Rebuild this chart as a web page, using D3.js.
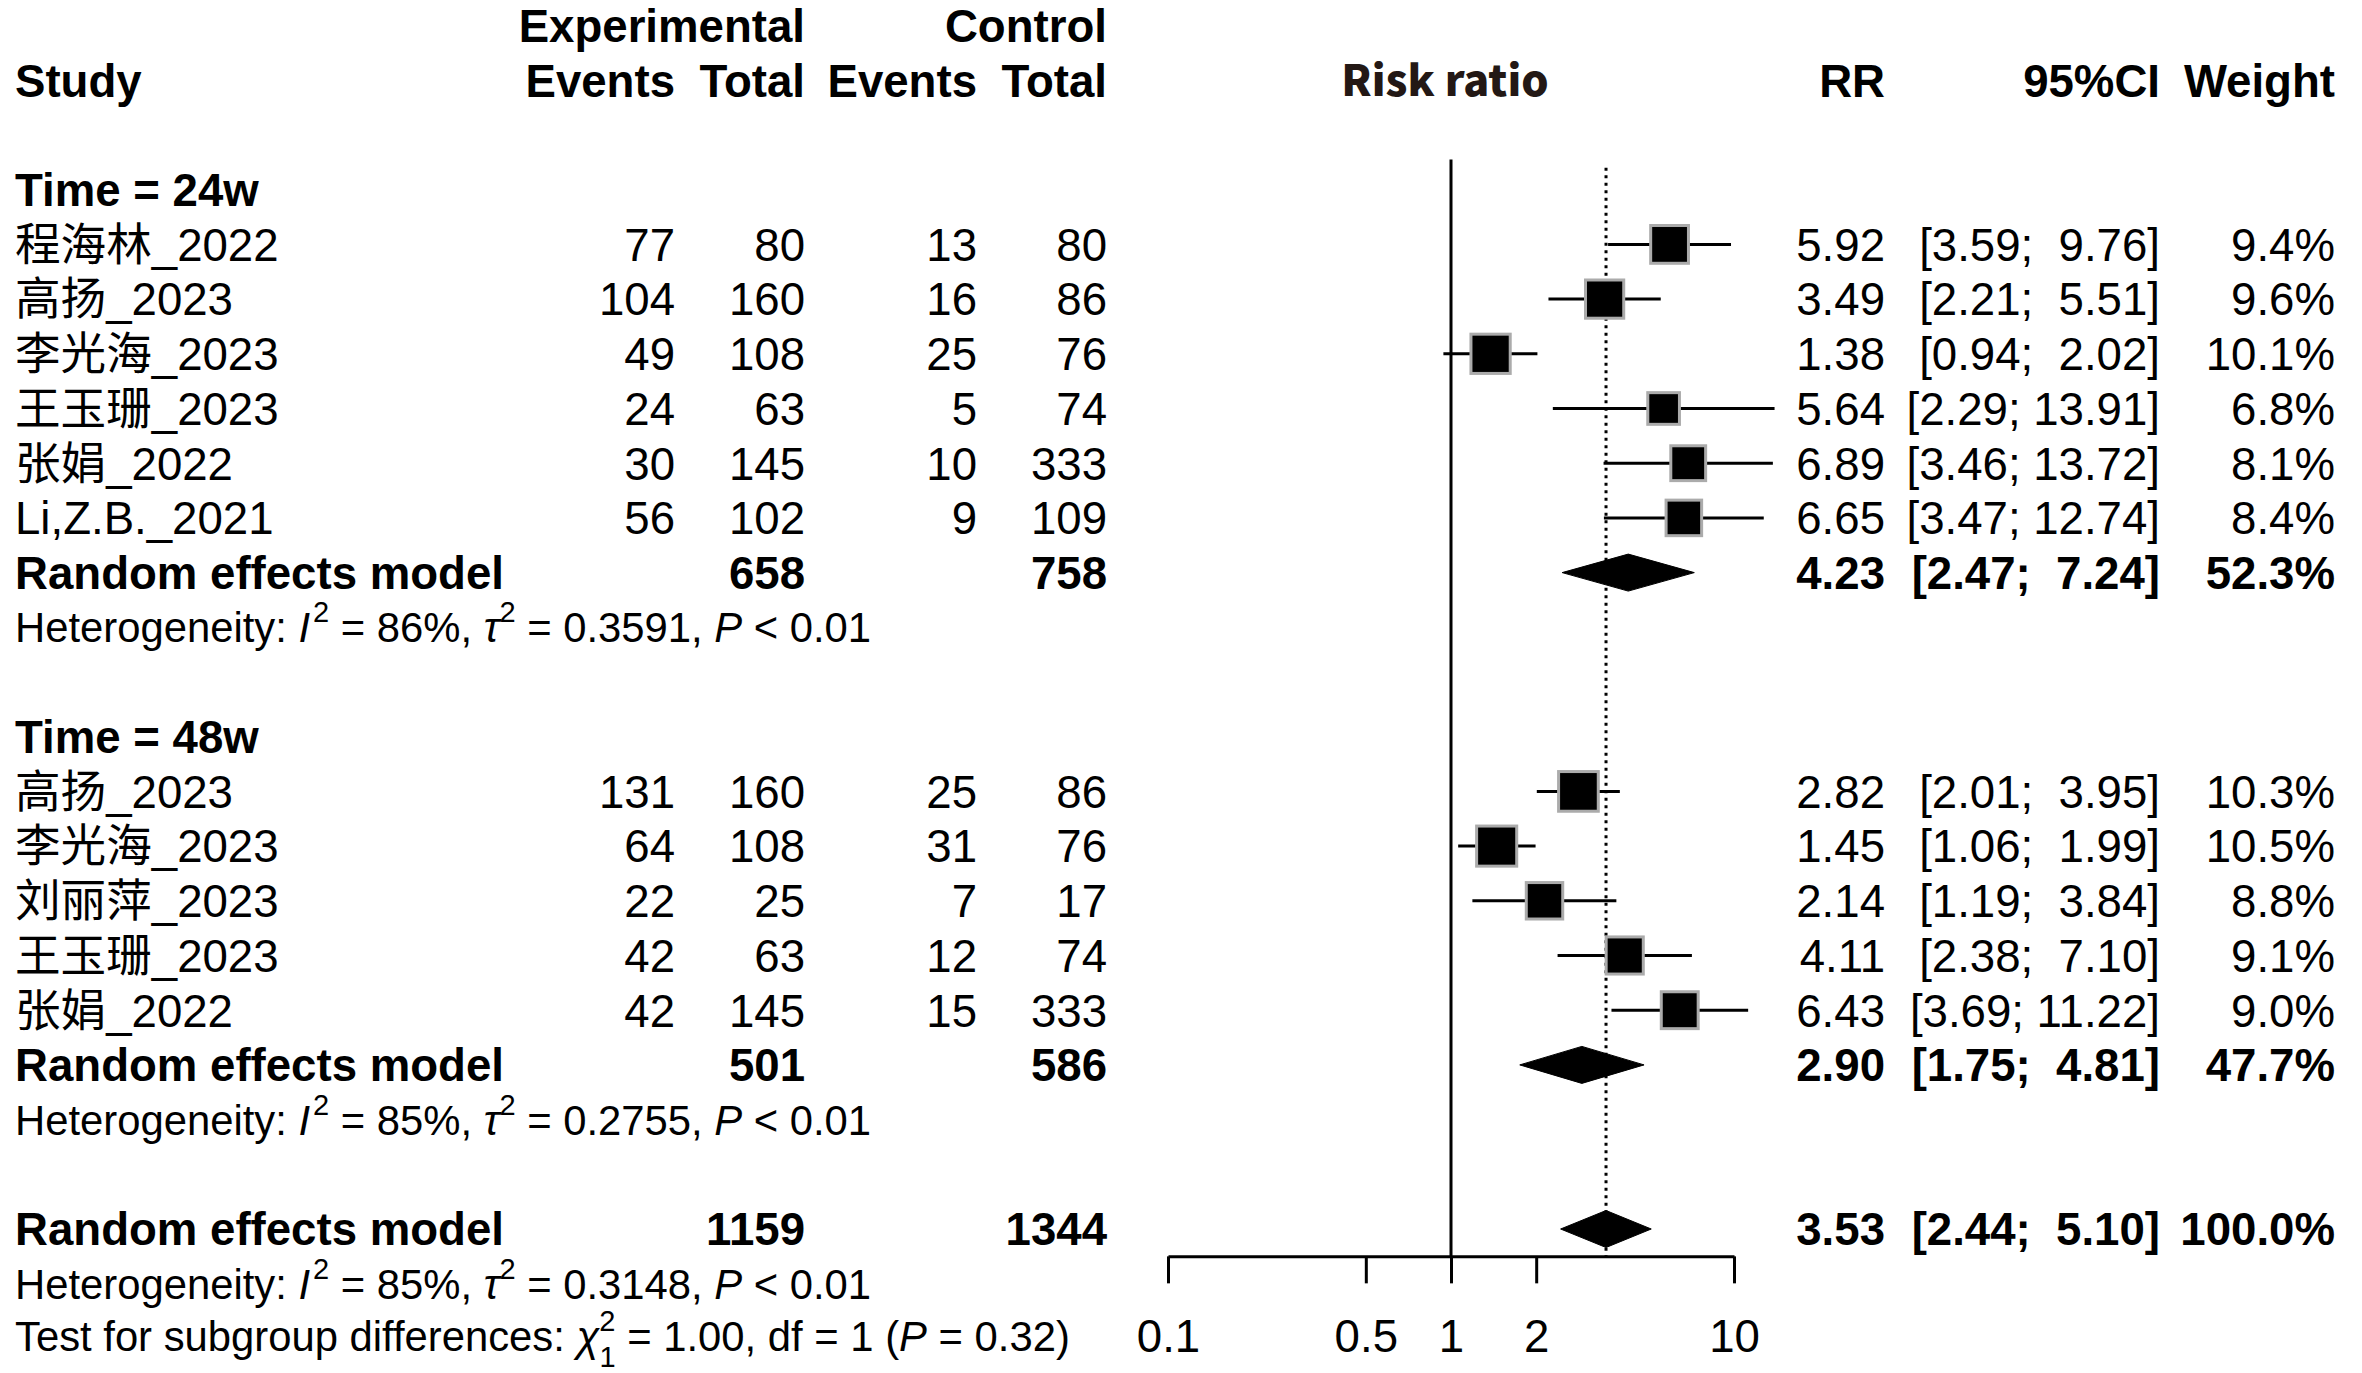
<!DOCTYPE html>
<html>
<head>
<meta charset="utf-8">
<script src="https://cdn.jsdelivr.net/npm/d3@7"></script>
<style>
  html, body { margin: 0; padding: 0; background: #fff; }
  svg text { white-space: pre; }
</style>
</head>
<body>
<script>
// ---------------- DATA ----------------
const groupLabels = ["Time = 24w", "Time = 48w"];
const studyNames = ["程海林_2022", "高扬_2023", "李光海_2023", "王玉珊_2023", "张娟_2022", "Li,Z.B._2021",
                    "高扬_2023", "李光海_2023", "刘丽萍_2023", "王玉珊_2023", "张娟_2022"];
const studyGroup = [0, 0, 0, 0, 0, 0, 1, 1, 1, 1, 1];
const expEvents  = [77, 104, 49, 24, 30, 56, 131, 64, 22, 42, 42];
const expTotal   = [80, 160, 108, 63, 145, 102, 160, 108, 25, 63, 145];
const ctrlEvents = [13, 16, 25, 5, 10, 9, 25, 31, 7, 12, 15];
const ctrlTotal  = [80, 86, 76, 74, 333, 109, 86, 76, 17, 74, 333];
const rrValues   = [5.92, 3.49, 1.38, 5.64, 6.89, 6.65, 2.82, 1.45, 2.14, 4.11, 6.43];
const ciLower    = [3.59, 2.21, 0.94, 2.29, 3.46, 3.47, 2.01, 1.06, 1.19, 2.38, 3.69];
const ciUpper    = [9.76, 5.51, 2.02, 13.91, 13.72, 12.74, 3.95, 1.99, 3.84, 7.10, 11.22];
const weights    = [9.4, 9.6, 10.1, 6.8, 8.1, 8.4, 10.3, 10.5, 8.8, 9.1, 9.0];

// pooled: [group 24w, group 48w, overall]
const pooledLabel    = "Random effects model";
const pooledExpTotal = [658, 501, 1159];
const pooledCtrlTotal= [758, 586, 1344];
const pooledRR       = [4.23, 2.90, 3.53];
const pooledLower    = [2.47, 1.75, 2.44];
const pooledUpper    = [7.24, 4.81, 5.10];
const pooledWeight   = [52.3, 47.7, 100.0];
const hetI2          = ["86%", "85%", "85%"];
const hetTau2        = ["0.3591", "0.2755", "0.3148"];
const hetP           = ["< 0.01", "< 0.01", "< 0.01"];
const subgroupChi2   = "1.00";
const subgroupDf     = "1";
const subgroupP      = "0.32";

const tickValues = [0.1, 0.5, 1, 2, 10];
const tickLabels = ["0.1", "0.5", "1", "2", "10"];

// ---------------- LAYOUT ----------------
const W = 2362, H = 1373;
const FONT = '"Liberation Sans", Arial, "Noto Sans CJK SC", sans-serif';
const FS = 45.6, FS_HET = 41.8;

const svg = d3.select("body").append("svg")
  .attr("width", W).attr("height", H)
  .attr("font-family", FONT);
svg.append("rect").attr("width", W).attr("height", H).attr("fill", "#fff");

const y = d3.scaleLinear().domain([0, 24]).range([25.6, 25.6 + 54.7 * 24]);
const x = d3.scaleLog().domain([0.1, 10]).range([1168, 1734]);

const col = { study: 15, expEv: 675, expTot: 805, ctrlEv: 977, ctrlTot: 1107,
              rr: 1885, ci: 2160, w: 2335, plot: 1445 };

const base = (r, fs) => y(r) + fs * 0.358;

function txt(r, xpos, s, opts = {}) {
  const fs = opts.fs || FS;
  return svg.append("text")
    .attr("x", xpos).attr("y", base(r, fs))
    .attr("font-size", fs)
    .attr("font-weight", opts.bold ? "bold" : "normal")
    .attr("text-anchor", opts.anchor || "start")
    .attr("fill", opts.fill || "#000")
    .attr("xml:space", "preserve")
    .text(s);
}

const fmt2 = v => v.toFixed(2);
const fmtCI = (l, u) => "[" + fmt2(l).padStart(4, " ") + "; " + fmt2(u).padStart(5, " ") + "]";
const fmtW = w => w.toFixed(1) + "%";

// ---------------- HEADERS ----------------
txt(0, col.expTot, "Experimental", { bold: true, anchor: "end" });
txt(0, col.ctrlTot, "Control", { bold: true, anchor: "end" });
txt(1, col.study, "Study", { bold: true });
txt(1, col.expEv, "Events", { bold: true, anchor: "end" });
txt(1, col.expTot, "Total", { bold: true, anchor: "end" });
txt(1, col.ctrlEv, "Events", { bold: true, anchor: "end" });
txt(1, col.ctrlTot, "Total", { bold: true, anchor: "end" });
svg.append("text")
  .attr("x", col.plot).attr("y", base(1, FS) - 1)
  .attr("font-family", '"Noto Sans CJK SC", "Noto Sans", sans-serif')
  .attr("font-size", 43).attr("font-weight", 900)
  .attr("text-anchor", "middle").attr("fill", "#231815")
  .text("Risk ratio");
txt(1, col.rr, "RR", { bold: true, anchor: "end" });
txt(1, col.ci, "95%CI", { bold: true, anchor: "end" });
txt(1, col.w, "Weight", { bold: true, anchor: "end" });

// ---------------- ROW STRUCTURE ----------------
const studyRows = [], pooledRows = [], hetRows = [], groupRows = [];
let r = 3;
groupLabels.forEach((g, gi) => {
  groupRows.push({ label: g, row: r }); r++;
  studyNames.forEach((n, i) => { if (studyGroup[i] === gi) { studyRows.push({ i, row: r }); r++; } });
  pooledRows.push({ k: gi, row: r }); r++;
  hetRows.push({ k: gi, row: r }); r++;
  r++;
});
pooledRows.push({ k: 2, row: r }); r++;
hetRows.push({ k: 2, row: r }); r++;
const testRow = r;

// ---------------- REFERENCE LINES ----------------
const axisY = y(22.5);
const g = svg.append("g");
g.append("line")
  .attr("x1", x(1)).attr("x2", x(1))
  .attr("y1", y(2.45)).attr("y2", axisY)
  .attr("stroke", "#000").attr("stroke-width", 3);
g.append("line")
  .attr("x1", x(pooledRR[2])).attr("x2", x(pooledRR[2]))
  .attr("y1", y(2.6)).attr("y2", axisY)
  .attr("stroke", "#000").attr("stroke-width", 3)
  .attr("stroke-dasharray", "3,4.5");

// ---------------- GROUP LABELS ----------------
groupRows.forEach(d => txt(d.row, col.study, d.label, { bold: true }));

// ---------------- STUDIES ----------------
studyRows.forEach(({ i, row }) => {
  txt(row, col.study, studyNames[i]);
  txt(row, col.expEv, String(expEvents[i]), { anchor: "end" });
  txt(row, col.expTot, String(expTotal[i]), { anchor: "end" });
  txt(row, col.ctrlEv, String(ctrlEvents[i]), { anchor: "end" });
  txt(row, col.ctrlTot, String(ctrlTotal[i]), { anchor: "end" });
  txt(row, col.rr, fmt2(rrValues[i]), { anchor: "end" });
  txt(row, col.ci, fmtCI(ciLower[i], ciUpper[i]), { anchor: "end" });
  txt(row, col.w, fmtW(weights[i]), { anchor: "end" });

  const cy = y(row);
  svg.append("line")
    .attr("x1", x(ciLower[i])).attr("x2", x(ciUpper[i]))
    .attr("y1", cy).attr("y2", cy)
    .attr("stroke", "#000").attr("stroke-width", 3);
  const side = 13.3 * Math.sqrt(weights[i]) - 3;
  svg.append("rect")
    .attr("x", x(rrValues[i]) - side / 2).attr("y", cy - side / 2)
    .attr("width", side).attr("height", side)
    .attr("fill", "#000").attr("stroke", "#ababab").attr("stroke-width", 3);
});

// ---------------- POOLED ----------------
pooledRows.forEach(({ k, row }) => {
  txt(row, col.study, pooledLabel, { bold: true });
  txt(row, col.expTot, String(pooledExpTotal[k]), { bold: true, anchor: "end" });
  txt(row, col.ctrlTot, String(pooledCtrlTotal[k]), { bold: true, anchor: "end" });
  txt(row, col.rr, fmt2(pooledRR[k]), { bold: true, anchor: "end" });
  txt(row, col.ci, fmtCI(pooledLower[k], pooledUpper[k]), { bold: true, anchor: "end" });
  txt(row, col.w, fmtW(pooledWeight[k]), { bold: true, anchor: "end" });
  const cy = y(row), hh = 18.5;
  const pts = [[x(pooledLower[k]), cy], [x(pooledRR[k]), cy - hh], [x(pooledUpper[k]), cy], [x(pooledRR[k]), cy + hh]];
  svg.append("path")
    .attr("d", d3.line()(pts) + "Z")
    .attr("fill", "#000").attr("stroke", "#000").attr("stroke-width", 1);
});

// ---------------- HETEROGENEITY ----------------
function hetText(row, k) {
  const t = svg.append("text")
    .attr("x", col.study).attr("y", base(row, FS_HET))
    .attr("font-size", FS_HET).attr("xml:space", "preserve");
  t.append("tspan").text("Heterogeneity: ");
  t.append("tspan").attr("font-style", "italic").text("I");
  t.append("tspan").attr("font-size", 29).attr("dy", -20).attr("dx", 3).text("2");
  t.append("tspan").attr("dy", 20).text(" = " + hetI2[k] + ", ");
  t.append("tspan").attr("font-style", "italic").text("τ");
  t.append("tspan").attr("font-size", 29).attr("dy", -20).text("2");
  t.append("tspan").attr("dy", 20).text(" = " + hetTau2[k] + ", ");
  t.append("tspan").attr("font-style", "italic").text("P");
  t.append("tspan").text(" " + hetP[k]);
}
hetRows.forEach(({ k, row }) => hetText(row, k));

// ---------------- SUBGROUP TEST ----------------
{
  const t = svg.append("text")
    .attr("x", col.study).attr("y", base(testRow, FS_HET) - 2)
    .attr("font-size", FS_HET).attr("xml:space", "preserve");
  t.append("tspan").text("Test for subgroup differences: ");
  t.append("tspan").attr("font-style", "italic").text("χ");
  t.append("tspan").attr("font-size", 29).attr("dy", -20).text("2");
  t.append("tspan").attr("font-size", 29).attr("dy", 36).attr("dx", -16).text(subgroupDf);
  t.append("tspan").attr("dy", -16).text(" = " + subgroupChi2 + ", df = " + subgroupDf + " (");
  t.append("tspan").attr("font-style", "italic").text("P");
  t.append("tspan").text(" = " + subgroupP + ")");
}

// ---------------- AXIS ----------------
const axis = d3.axisBottom(x)
  .tickValues(tickValues)
  .tickFormat((d, i) => tickLabels[i])
  .tickSize(27).tickSizeOuter(0);
const ag = svg.append("g").attr("transform", `translate(0,${axisY})`).call(axis);
ag.select(".domain").attr("stroke", "#000").attr("stroke-width", 3);
ag.selectAll(".tick line").attr("stroke", "#000").attr("stroke-width", 3);
ag.selectAll(".tick text")
  .attr("y", 96).attr("dy", 0)
  .attr("font-size", FS).attr("font-family", FONT).attr("fill", "#000");
</script>
</body>
</html>
